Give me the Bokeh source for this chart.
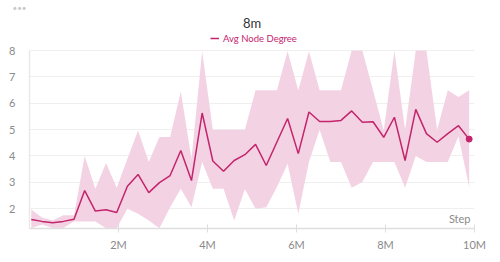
from bokeh.plotting import figure
from bokeh.models import Range1d, FixedTicker, Legend, LegendItem, Label, Title
from bokeh.embed import file_html
from bokeh.resources import INLINE

# ---- data (steps in millions) ----
steps_m = [0.04, 0.28, 0.52, 0.76, 1.00, 1.24, 1.48, 1.72, 1.96, 2.20,
           2.44, 2.68, 2.92, 3.16, 3.40, 3.64, 3.88, 4.12, 4.36, 4.60,
           4.84, 5.08, 5.32, 5.56, 5.80, 6.04, 6.28, 6.52, 6.76, 7.00,
           7.24, 7.48, 7.72, 7.96, 8.20, 8.44, 8.68, 8.92, 9.16, 9.40,
           9.64, 9.88]
avg_node_degree = [1.59, 1.52, 1.47, 1.52, 1.60, 2.69, 1.91, 1.96, 1.86, 2.85,
                   3.30, 2.61, 2.99, 3.26, 4.21, 3.07, 5.63, 3.81, 3.42, 3.83,
                   4.05, 4.44, 3.64, 4.53, 5.42, 4.09, 5.67, 5.31, 5.31, 5.35,
                   5.71, 5.28, 5.30, 4.71, 5.47, 3.83, 5.77, 4.85, 4.52, 4.85,
                   5.15, 4.64]
band_upper = [1.97, 1.67, 1.55, 1.75, 1.75, 4.00, 2.76, 3.73, 2.80, 3.90,
              4.97, 3.77, 4.72, 4.72, 6.45, 3.90, 7.97, 5.00, 5.00, 5.00,
              5.00, 6.49, 6.49, 6.49, 7.97, 6.49, 7.97, 6.49, 6.49, 6.49,
              8.00, 8.00, 6.49, 4.97, 8.00, 5.00, 8.00, 8.00, 5.00, 6.49,
              6.24, 6.49]
band_lower = [1.26, 1.40, 1.27, 1.27, 1.52, 1.52, 1.52, 1.26, 1.26, 2.00,
              1.81, 1.55, 1.26, 2.06, 2.76, 2.06, 3.77, 2.76, 2.76, 1.55,
              2.74, 2.00, 2.06, 2.82, 3.71, 1.81, 3.77, 5.00, 3.77, 3.77,
              2.80, 3.01, 3.77, 3.77, 3.77, 2.80, 4.00, 3.77, 3.77, 3.77,
              4.75, 2.82]
y_ticks = [2, 3, 4, 5, 6, 7, 8]
x_ticks = [2, 4, 6, 8, 10]
x_tick_labels = ["2M", "4M", "6M", "8M", "10M"]

FONT = "Lato"
LINE = "#c4246c"
GRAY = "#8a8a8a"

p = figure(width=500, height=262, x_range=Range1d(0, 10), y_range=Range1d(1.25, 8.76),
           output_backend="svg", toolbar_location=None,
           min_border_left=29, min_border_right=26, min_border_top=30, min_border_bottom=34)
p.outline_line_color = None

p.add_layout(Title(text="8m", align="center", text_font=FONT, text_font_size="13px",
                   text_font_style="normal", text_color="#333333", standoff=0), "above")
p.add_layout(Title(text="\u2022\u2022\u2022", align="left", offset=-17, text_font=FONT,
                   text_font_size="8px", text_font_style="normal", text_color="#c8c8c8",
                   standoff=0), "above")

p.varea(x=steps_m, y1=band_lower, y2=band_upper, fill_color="#f3d3e3")
ln = p.line(steps_m, avg_node_degree, line_color=LINE, line_width=1.5)
p.scatter([steps_m[-1]], [avg_node_degree[-1]], size=6, color=LINE)

legend = Legend(items=[LegendItem(label="Avg Node Degree", renderers=[ln])],
                orientation="horizontal", location=(181, 184),
                border_line_color=None, background_fill_alpha=0,
                label_text_color=LINE, label_text_font=FONT, label_text_font_size="9.5px",
                glyph_width=9, glyph_height=12, label_height=12, label_standoff=4,
                padding=0, margin=0)
p.add_layout(legend, "center")

p.xgrid.visible = False
p.ygrid.grid_line_color = "#efefef"
p.ygrid.ticker = FixedTicker(ticks=y_ticks)

p.yaxis.ticker = FixedTicker(ticks=y_ticks)
p.yaxis.bounds = (1.25, 8)
p.yaxis.axis_line_color = "#e8e8e8"
p.yaxis.axis_line_width = 1.5
p.yaxis.major_tick_out = 0
p.yaxis.major_tick_in = 0
p.yaxis.minor_tick_line_color = None
p.yaxis.major_label_standoff = 14
p.yaxis.major_label_text_color = GRAY
p.yaxis.major_label_text_font = FONT
p.yaxis.major_label_text_font_size = "11px"

p.xaxis.ticker = FixedTicker(ticks=x_ticks)
p.xaxis.major_label_overrides = {t: l for t, l in zip(x_ticks, x_tick_labels)}
p.xaxis.axis_line_color = "#dedede"
p.xaxis.axis_line_width = 1.5
p.xaxis.major_tick_line_color = "#dedede"
p.xaxis.major_tick_in = 4
p.xaxis.major_tick_out = 4
p.xaxis.minor_tick_line_color = None
p.xaxis.major_label_standoff = 5
p.xaxis.major_label_text_color = GRAY
p.xaxis.major_label_text_font = FONT
p.xaxis.major_label_text_font_size = "11px"

p.add_layout(Label(x=441, y=4, x_units="screen", y_units="screen", text="Step",
                   text_align="right", text_baseline="bottom", text_color=GRAY,
                   text_font=FONT, text_font_size="11px"))

open("out.html", "w").write(file_html(p, INLINE))
